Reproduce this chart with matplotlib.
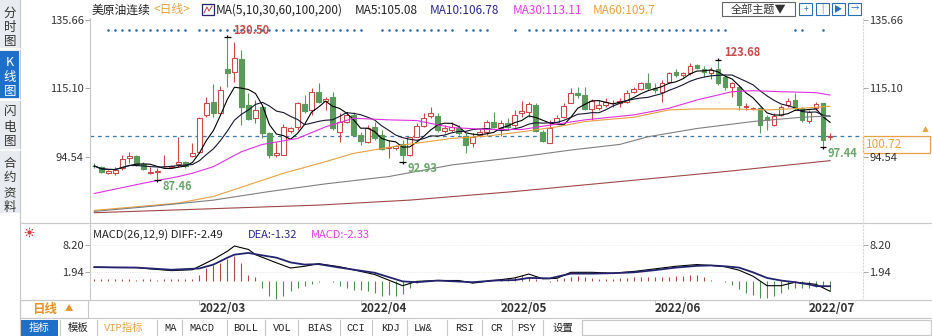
import numpy as np
import pandas as pd
import matplotlib
matplotlib.use("Agg")
import matplotlib.pyplot as plt
from matplotlib.patches import Rectangle

plt.rcParams['font.family'] = ['Noto Sans CJK SC', 'DejaVu Sans']

# ---- daily candles ----
opens = [91.8, 91.5, 89.5, 89.7, 91.0, 94.0, 94.7, 92.3, 89.5, 90.0,
         91.6, 91.3, 92.3, 93.0, 94.7, 96.0, 107.1, 111.1, 107.6, 120.8,
         120.1, 123.9, 110.1, 106.1, 109.4, 101.7, 95.0, 95.0, 102.3, 103.6,
         110.4, 108.6, 114.1, 111.4, 112.6, 102.0, 105.05, 107.1, 101.0, 98.8,
         103.5, 101.0, 97.0, 97.1, 98.2, 95.0, 100.5, 103.8, 106.8, 106.8,
         102.3, 102.5, 103.0, 100.7, 98.5, 101.0, 102.0, 105.05, 103.05, 104.6,
         104.1, 107.6, 108.1, 110.1, 102.0, 98.7, 105.1, 106.6, 110.8, 113.8,
         113.1, 108.8, 109.1, 110.1, 110.6, 110.6, 111.1, 114.1, 114.9, 116.8,
         115.1, 114.1, 117.1, 120.1, 119.1, 119.6, 122.0, 120.8, 119.8, 120.8,
         118.6, 115.4, 115.4, 109.6, 109.0, 109.1, 106.4, 104.1, 107.1, 110.1,
         111.6, 109.1, 105.4, 109.1, 110.6, 100.5]
highs = [92.5, 91.8, 90.6, 91.5, 95.0, 95.8, 95.0, 92.8, 91.5, 91.0,
         95.0, 92.0, 100.5, 93.3, 98.5, 106.5, 112.4, 116.3, 115.8, 130.5,
         129.2, 126.7, 113.6, 111.6, 110.1, 102.0, 99.0, 104.4, 103.6, 111.1,
         113.1, 115.1, 116.6, 112.6, 114.1, 107.6, 108.1, 108.1, 102.0, 104.0,
         105.1, 102.5, 99.5, 98.0, 99.5, 100.5, 104.6, 107.6, 109.6, 107.6,
         104.0, 105.1, 104.0, 101.5, 101.5, 102.8, 105.6, 108.1, 105.6, 106.1,
         108.6, 111.4, 111.1, 110.6, 102.5, 105.6, 107.1, 110.6, 115.1, 115.6,
         115.6, 111.8, 111.6, 112.1, 111.6, 112.1, 114.6, 115.6, 117.1, 119.6,
         116.6, 117.6, 120.1, 120.8, 120.1, 122.9, 122.5, 121.8, 121.6, 123.68,
         119.1, 117.1, 116.1, 110.8, 109.6, 109.6, 107.1, 107.6, 110.1, 112.1,
         113.8, 109.6, 108.6, 111.1, 110.8, 101.7]
lows = [91.0, 89.7, 89.3, 89.0, 90.5, 92.5, 91.8, 90.4, 89.3, 87.46,
        91.3, 91.0, 91.5, 91.2, 94.5, 95.5, 106.6, 106.6, 107.4, 115.6,
        117.1, 104.1, 105.6, 104.6, 100.0, 94.0, 94.5, 95.0, 101.5, 102.6,
        107.6, 107.1, 110.6, 108.6, 102.5, 99.0, 104.6, 100.7, 98.0, 98.5,
        99.5, 96.5, 94.0, 96.5, 92.93, 94.6, 100.3, 103.5, 106.1, 102.0,
        101.5, 102.0, 101.0, 95.5, 97.3, 100.5, 101.0, 103.0, 100.7, 102.5,
        103.5, 106.6, 106.6, 102.0, 99.0, 98.5, 104.6, 106.1, 110.6, 112.1,
        108.6, 105.6, 108.6, 109.6, 109.6, 109.6, 110.6, 113.6, 114.6, 114.6,
        113.6, 111.1, 116.6, 118.6, 118.6, 119.1, 120.8, 118.6, 117.8, 116.1,
        114.6, 112.6, 108.6, 108.6, 108.6, 101.7, 102.5, 103.8, 106.8, 109.6,
        108.6, 105.1, 104.8, 108.6, 97.44, 99.5]
closes = [91.7, 90.0, 90.3, 90.5, 93.7, 94.7, 92.0, 90.7, 90.0, 90.3,
          91.8, 91.8, 92.8, 91.8, 95.5, 106.1, 110.8, 107.8, 114.6, 119.8,
          124.2, 109.4, 105.8, 108.6, 101.7, 95.0, 95.5, 103.4, 103.1, 110.6,
          108.4, 114.1, 111.1, 112.0, 103.0, 105.05, 107.1, 101.0, 99.3, 103.0,
          100.0, 96.7, 97.5, 97.7, 95.0, 100.3, 103.8, 106.1, 107.6, 102.5,
          103.0, 103.5, 101.5, 98.0, 100.5, 102.0, 105.05, 103.55, 104.6, 103.55,
          107.1, 108.3, 110.4, 102.3, 99.3, 103.0, 106.1, 109.8, 113.6, 113.1,
          108.8, 111.4, 110.1, 111.1, 110.6, 111.4, 113.8, 114.8, 116.8, 115.1,
          114.6, 116.8, 119.8, 119.1, 119.6, 121.9, 121.2, 120.1, 120.6, 116.6,
          115.6, 116.8, 110.1, 109.6, 109.2, 104.1, 105.6, 106.8, 109.6, 111.3,
          109.1, 105.6, 108.1, 110.4, 99.5, 100.72]

# long moving averages read at sample candles
ma30_idx = [0, 7, 12, 14, 17, 21, 24, 29, 33, 37, 42, 46, 49, 51, 56, 61, 65, 70, 77, 82, 86, 91, 94, 98, 103, 105]
ma30_val = [83.4, 86.5, 88.5, 89.5, 91.5, 96.0, 98.2, 100.0, 103.5, 106.1, 105.6, 105.4, 104.1, 103.3, 102.7, 102.7,
            104.0, 105.6, 107.1, 109.1, 111.6, 114.1, 114.4, 114.1, 113.8, 113.1]
ma60_idx = [0, 12, 17, 22, 27, 33, 37, 44, 51, 56, 61, 66, 70, 77, 82, 86, 91, 96, 101, 105]
ma60_val = [78.3, 80.5, 82.5, 86.0, 89.5, 93.0, 95.5, 98.0, 100.0, 100.7, 102.0, 103.5, 105.1, 106.4, 108.6,
            108.9, 108.9, 108.6, 109.1, 109.7]
ma100_idx = [0, 8, 17, 25, 33, 42, 51, 61, 68, 75, 79, 86, 94, 101, 105]
ma100_val = [78.0, 79.5, 81.4, 84.0, 86.3, 88.5, 92.0, 94.5, 96.5, 98.2, 100.5, 103.0, 105.1, 106.4, 106.8]
ma200_idx = [0, 32, 45, 60, 75, 90, 105]
ma200_val = [77.6, 79.9, 81.4, 84.0, 87.0, 90.0, 93.3]

# signal dots on top row (candle indexes)
dot_idx = list(range(2, 14)) + list(range(15, 39)) + list(range(41, 52)) + list(range(53, 57)) + [60] \
    + list(range(62, 91)) + [100, 101, 104]

# MACD(26,12,9)
diff_idx = [0, 3, 6, 8, 11, 14, 15, 17, 19, 20, 22, 23, 26, 28, 30, 32, 35, 40, 44, 46, 49, 52, 54, 57, 60, 62,
            64, 66, 68, 71, 74, 77, 80, 83, 86, 88, 90, 92, 94, 96, 98, 100, 102, 103, 105]
diff_val = [3.1, 3.0, 3.0, 2.7, 2.3, 2.5, 3.3, 4.9, 6.8, 8.0, 7.2, 6.0, 4.1, 2.9, 3.3, 3.9, 3.2, 1.4, -1.2, -0.2,
            0.0, 0.0, -0.6, 0.0, 0.6, 1.5, 0.4, 0.5, 1.9, 1.9, 1.7, 2.1, 2.7, 3.3, 3.7, 3.5, 3.2, 2.4, 1.0, -1.2,
            -1.2, -0.4, -0.7, -0.9, -2.49]
dea_idx = [0, 6, 11, 15, 17, 19, 20, 22, 23, 26, 28, 30, 32, 35, 40, 44, 46, 49, 54, 57, 60, 62, 65, 68, 71, 74,
           77, 80, 83, 86, 88, 90, 92, 94, 96, 98, 100, 102, 103, 105]
dea_val = [3.1, 3.0, 2.5, 2.8, 3.7, 5.3, 6.0, 6.4, 6.1, 5.3, 4.2, 3.7, 3.8, 3.0, 1.8, -0.2, -0.4, 0.0, -0.4, 0.0,
           0.1, 0.6, 0.5, 1.6, 1.6, 1.7, 1.9, 2.4, 3.0, 3.4, 3.5, 3.3, 3.0, 1.9, 0.6, 0.0, -0.4, -0.9, -1.3, -1.32]
macd_hist = [0.4, 0.3, 0.3, 0.4, 0.3, 0.3, 0.2, 0.3, 0.3, 0.2, 0.3, 0.3, 0.3, 0.3, 0.4,
             1.2, 2.9, 3.7, 4.1, 4.9, 5.6, 4.1, 1.2, 0.8, -1.7, -3.6, -4.4, -3.6, -2.5, -1.7,
             -1.2, -0.9, -0.3, -0.2, -0.4, -1.3, -1.7, -2.1, -2.3, -2.5, -2.9, -3.5, -3.3, -3.6, -3.2,
             -1.7, -0.6, -0.2, 0.2, 0.2, 0.1, -0.1, -0.2, -0.3, -0.3, -0.2, 0.1, 0.2, 0.3, 0.5,
             0.7, 1.2, 0.8, 0.3, -0.2, -0.3, 0.3, 0.6, 0.9, 1.0, 0.8, 0.5, 0.4, 0.3, 0.4,
             0.5, 0.6, 0.7, 0.7, 0.8, 0.8, 0.9, 0.9, 1.0, 1.0, 1.2, 1.2, 0.8, 0.2, -0.2,
             -0.4, -1.0, -2.0, -3.0, -3.4, -4.0, -4.0, -3.5, -2.8, -2.0, -1.7, -1.7, -1.7, -1.4, -1.5,
             -2.33]

month_idx = [15, 38, 58, 80, 102]
month_lbl = ['2022/03', '2022/04', '2022/05', '2022/06', '2022/07']
price_ticks = [94.54, 115.10, 135.66]
macd_ticks = [1.94, 8.20]
last_price = 100.72
hi_marks = [19, 89]
lo_marks = [9, 44, 104]

RED = '#c84a48'
GREEN = '#5a9a5a'
ORANGE = '#e8a040'
NAVY = '#23236e'
GRID = '#c8c8c8'

W, H = 932, 336
fig = plt.figure(figsize=(W / 100, H / 100), dpi=100)

# background layer in pixel coordinates for the frame / toolbar
bg = fig.add_axes([0, 0, 1, 1])
bg.set_xlim(0, W)
bg.set_ylim(H, 0)
bg.axis('off')


def px_axes(x0, y0, x1, y1):
    a = fig.add_axes([x0 / W, 1 - y1 / H, (x1 - x0) / W, (y1 - y0) / H])
    a.set_facecolor('none')
    return a


XL = (-0.614, 109.7)
ax = px_axes(90, 18, 863, 223)
axm = px_axes(90, 223, 863, 300)
axd = px_axes(90, 300, 863, 318)

o = np.array(opens)
h = np.array(highs)
l = np.array(lows)
c = np.array(closes)
x = np.arange(len(c))
up = c >= o

# candles
ax.vlines(x[up], l[up], h[up], color=RED, lw=0.8, zorder=2)
ax.vlines(x[~up], l[~up], h[~up], color=GREEN, lw=0.8, zorder=2)
lo_b = np.minimum(o, c)
hgt = np.maximum(np.abs(c - o), 0.12)
ax.bar(x[up], hgt[up], 0.68, bottom=lo_b[up], facecolor='white', edgecolor=RED, lw=0.8, zorder=3)
ax.bar(x[~up], hgt[~up], 0.68, bottom=lo_b[~up], facecolor=GREEN, edgecolor=GREEN, lw=0.8, zorder=3)

# moving averages
cs = pd.Series(c)
ax.plot(x, cs.rolling(5, min_periods=1).mean(), color='black', lw=0.8, zorder=4)
ax.plot(x, cs.rolling(10, min_periods=1).mean(), color='#151530', lw=0.8, zorder=4)
ax.plot(ma30_idx, ma30_val, color='#e030e0', lw=0.8, zorder=4)
ax.plot(ma60_idx, ma60_val, color=ORANGE, lw=0.8, zorder=4)
ax.plot(ma100_idx, ma100_val, color='#808080', lw=0.8, zorder=4)
ax.plot(ma200_idx, ma200_val, color='#a04848', lw=0.8, zorder=4)

ax.axhline(last_price, color='#3a7ab0', lw=0.9, dashes=(3, 3), zorder=1)
ax.scatter(dot_idx, [0.941] * len(dot_idx), s=3.5, color='#2e6fa5',
           transform=ax.get_xaxis_transform(), zorder=5, linewidths=0)

for i in hi_marks:
    ax.hlines(h[i], i - 0.45, i + 0.45, color='black', lw=0.9, zorder=5)
    ax.vlines(i, h[i], h[i] + 0.6, color='black', lw=0.9, zorder=5)
    ax.annotate(f'{h[i]:.2f}', (i, h[i]), xytext=(4.3, 5.2), textcoords='offset points',
                ha='left', va='center', color=RED, fontsize=8, fontweight='bold', zorder=6)
for i in lo_marks:
    ax.hlines(l[i], i - 0.45, i + 0.45, color='black', lw=0.9, zorder=5)
    ax.vlines(i, l[i] - 0.6, l[i], color='black', lw=0.9, zorder=5)
    ax.annotate(f'{l[i]:.2f}', (i, l[i]), xytext=(3.4, -5.0), textcoords='offset points',
                ha='left', va='center', color='#6aa56a', fontsize=8, fontweight='bold', zorder=6)

ax.set_xlim(*XL)
ax.set_ylim(74.50, 136.32)

# MACD panel
hist = np.array(macd_hist)
pos = hist >= 0
axm.vlines(x[pos], 0, hist[pos], color='#b04848', lw=0.8)
axm.vlines(x[~pos], 0, hist[~pos], color='#4e8e4e', lw=0.8)
axm.plot(diff_idx, diff_val, color='black', lw=0.8, zorder=3)
axm.plot(dea_idx, dea_val, color=NAVY, lw=1.3, zorder=3)
for t in macd_ticks:
    axm.axhline(t, color='#e2e2e2', lw=0.6, ls=':', zorder=0)
axm.set_xlim(*XL)
axm.set_ylim(-4.52, 13.34)

for a, ticks in ((ax, price_ticks), (axm, macd_ticks)):
    a.set_xticks([])
    a.set_yticks(ticks)
    a.set_yticklabels([f'{t:.2f}' for t in ticks])
    a.tick_params(axis='y', left=True, right=True, labelleft=True, labelright=True,
                  length=3.5, width=0.6, color='#999999', pad=1, labelsize=8, labelcolor='#333333')
    for s in ('top', 'bottom'):
        a.spines[s].set_visible(False)
    a.spines['left'].set_color(GRID)
    a.spines['left'].set_linewidth(0.8)
    a.spines['right'].set_color('#d8d8d8')
    a.spines['right'].set_linestyle((0, (1, 2)))
    a.spines['right'].set_linewidth(0.8)

# date strip
axd.set_xlim(*XL)
axd.set_ylim(0, 1)
axd.axis('off')
for i, lb in zip(month_idx, month_lbl):
    axd.vlines(i, 0.75, 1.0, color='#bbbbbb', lw=0.6)
    axd.text(i, 0.5, lb, ha='left', va='center', fontsize=8.5, fontweight='bold', color='#333333')

# ---- frame, header, sidebar, toolbar (pixel coordinates) ----
for yy in (223, 300, 318):
    bg.plot([20, W], [yy, yy], color=GRID, lw=0.8)
bg.plot([20, 20], [0, 336], color=GRID, lw=0.8)

# sidebar tabs
bg.add_patch(Rectangle((0, 0), 20, 213, facecolor='#e8ebef', edgecolor='none'))
bg.add_patch(Rectangle((0, 51), 19, 47, facecolor='#1e6fc8', edgecolor='none'))
for yy in (49, 100, 150):
    bg.plot([0, 20], [yy, yy], color='white', lw=1.2)
tabs = [('分时图', [13, 28, 42], '#333333'), ('K线图', [62, 77, 91], 'white'),
        ('闪电图', [112, 127, 141], '#333333'), ('合约资料', [163, 178, 193, 207], '#333333')]
for word, ys, col in tabs:
    for ch, yy in zip(word, ys):
        bg.text(10, yy, ch, ha='center', va='center', fontsize=9, color=col)

# sun-like indicator icon
bg.scatter([29], [232], s=40, marker=(8, 2, 0), color='#d04040', linewidths=0.6)
bg.scatter([29], [232], s=14, marker='o', facecolor='#d04040', edgecolor='white', linewidths=0.6)

# header
hy = 10
bg.text(92, hy, '美原油连续', fontsize=8.5, va='center', color='#222222')
bg.text(153, hy, '<日线>', fontsize=8.5, va='center', color=ORANGE)
bg.add_patch(Rectangle((202, 4), 12, 11, facecolor='white', edgecolor=NAVY, lw=0.9))
bg.plot([204, 207, 209, 212], [13, 7, 11, 6], color='#c04040', lw=0.7)
bg.text(216, hy, 'MA(5,10,30,60,100,200)', fontsize=8.5, va='center', color='#222222')
bg.text(355, hy, 'MA5:105.08', fontsize=8.5, va='center', color='#222222')
bg.text(430, hy, 'MA10:106.78', fontsize=8.5, va='center', color='#2b2b8a')
bg.text(513, hy, 'MA30:113.11', fontsize=8.5, va='center', color='#e040e0')
bg.text(593, hy, 'MA60:109.7', fontsize=8.5, va='center', color=ORANGE)
bg.add_patch(Rectangle((722, 2), 73, 14, facecolor='white', edgecolor='#666666', lw=0.8))
bg.text(758, 9.5, '全部主题▼', fontsize=8, ha='center', va='center', color='#333333')
for x0, sym in zip((799, 816, 832, 848), ('+', '|', '▶', '→')):
    bg.add_patch(Rectangle((x0, 3), 13, 12, facecolor='white', edgecolor='#2a6fb5', lw=0.8))
    bg.text(x0 + 6.5, 9.2, sym, fontsize=6, ha='center', va='center', color='#2a6fb5')

# MACD title
my = 235
bg.text(93, my, 'MACD(26,12,9) DIFF:-2.49', fontsize=8, va='center', color='#222222')
bg.text(248, my, 'DEA:-1.32', fontsize=8, va='center', color='#2b2b8a')
bg.text(311, my, 'MACD:-2.33', fontsize=8, va='center', color='#e040e0')

# last price box
bg.add_patch(Rectangle((863, 136), 67, 17, facecolor='white', edgecolor=ORANGE, lw=0.9, zorder=5))
bg.text(866, 145, f'{last_price:.2f}', fontsize=8.5, va='center', color=ORANGE, zorder=6)
bg.text(925, 130, '▲', fontsize=5, ha='center', va='center', color=ORANGE)

# bottom-left period box
bg.add_patch(Rectangle((20, 300), 68, 18, facecolor='white', edgecolor=GRID, lw=0.8))
bg.text(45, 309, '日线', fontsize=9, fontweight='bold', ha='center', va='center', color='#e8902a')
bg.text(69, 309, '▲', fontsize=6, ha='center', va='center', color='#e8902a')

# toolbar
bg.add_patch(Rectangle((20, 320), 38, 16, facecolor='#1e6fc8', edgecolor='none'))
for xs in (60, 97, 157, 182, 227, 265, 298, 340, 372, 407, 447, 482, 512, 543, 582):
    bg.plot([xs, xs], [320, 336], color=GRID, lw=0.8)
bg.add_patch(Rectangle((582, 320), 349, 15, facecolor='white', edgecolor=GRID, lw=0.8))
tools = [('指标', 39, 'white'), ('模板', 78, '#222222'), ('VIP指标', 124, ORANGE), ('MA', 171, '#222222'),
         ('MACD', 202, '#222222'), ('BOLL', 246, '#222222'), ('VOL', 282, '#222222'), ('BIAS', 320, '#222222'),
         ('CCI', 356, '#222222'), ('KDJ', 390, '#222222'), ('LW&', 423, '#222222'), ('RSI', 465, '#222222'),
         ('CR', 497, '#222222'), ('PSY', 526, '#222222'), ('设置', 563, '#222222')]
for name, xc, col in tools:
    bg.text(xc, 328, name, fontsize=7.5, ha='center', va='center', color=col,
            family=['Liberation Mono', 'Noto Sans CJK SC'])

fig.savefig('out.png', dpi=100)
